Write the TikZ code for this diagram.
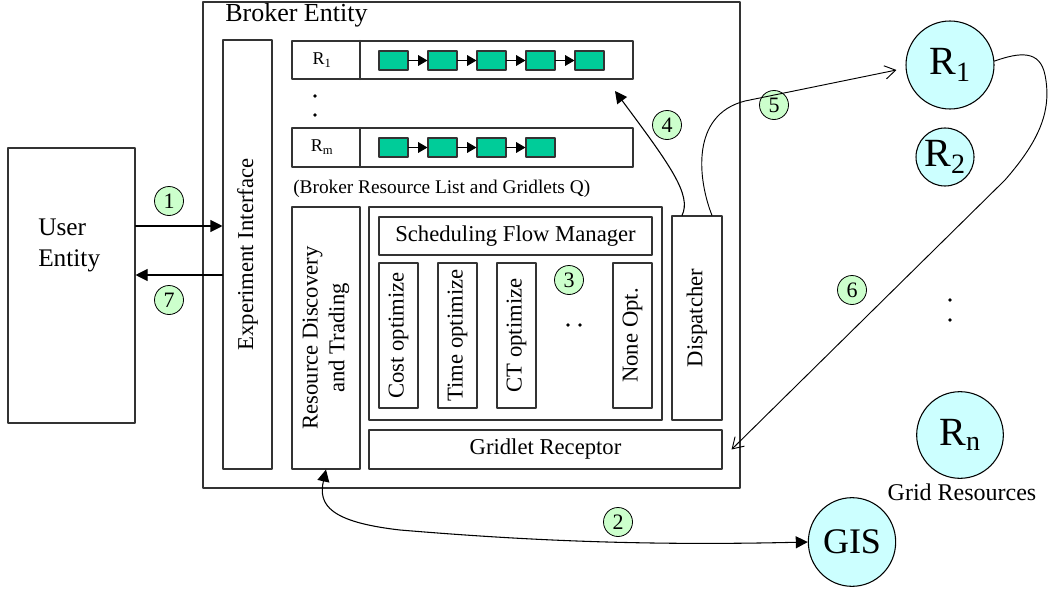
\documentclass[tikz,border=0pt]{standalone}
\usepackage{fontspec}
\setmainfont{Liberation Serif}
\usetikzlibrary{arrows.meta,fit,shapes.geometric}

\definecolor{jobfill}{RGB}{0,204,153}
\definecolor{stepfill}{RGB}{204,255,204}
\definecolor{resfill}{RGB}{204,255,255}

\begin{document}
\begin{tikzpicture}
	[line cap=round,line join=round,>={Triangle[length=9pt,width=9pt]},x=0.75pt,y=-0.75pt,
	box/.style={draw=black!80,line width=0.8pt,inner sep=0pt},
	lbl/.style={font=\fontsize{17}{20}\selectfont,inner sep=0pt},
	job/.style={draw=black!80,fill=jobfill,line width=0.8pt,minimum width=21.75pt,minimum height=14.25pt,inner sep=0pt},
	num/.style={circle,draw=black,fill=stepfill,line width=0.6pt,minimum size=21.75pt,inner sep=0pt,font=\fontsize{16.5}{16.5}\selectfont},
	res/.style={circle,draw=black,fill=resfill,line width=0.8pt,inner sep=0pt,font=\fontsize{30}{30}\selectfont},
	flow/.style={line width=0.8pt},
	open/.style={line width=0.7pt,-{Straight Barb[length=8pt,width=10pt]}}]
	\useasboundingbox (0,0) rectangle (1052,592);
	% broker and user
	\node[box,fit={(203,2) (740,488)}] (broker) {};
	\node[anchor=base west,inner sep=0pt,font=\fontsize{19.5}{22}\selectfont] (title) at (225,22) {Broker Entity};
	\node[box,fit={(8,148) (135,423)}] (user) {};
	\node[anchor=north west,align=left,inner sep=0pt,font=\fontsize{19}{23.25}\selectfont] (usertxt) at (38,219) {User\\Entity};
	\node[box,fit={(223,40) (272,469)}] (expif) {};
	\node[lbl,rotate=90] (expiftxt) at (expif.center) {Experiment Interface};
	% resource list and gridlet queues
	\node[box,fit={(292,41) (633,79)}] (row1) {};
	\node[box,fit={(292,128) (633,167)}] (rowm) {};
	\draw[draw=black!80,line width=0.8pt] (360,0 |- row1.north) -- (360,0 |- row1.south);
	\draw[draw=black!80,line width=0.8pt] (360,0 |- rowm.north) -- (360,0 |- rowm.south);
	\node[inner sep=0pt,font=\fontsize{13.5}{14}\selectfont] (lab1) at (322,60) {R\textsubscript{1}};
	\node[inner sep=0pt,font=\fontsize{13.5}{14}\selectfont] (labm) at (322,147) {R\textsubscript{m}};
	\foreach \i in {1,...,5}
		\node[job] (a\i) at ({393.5+49*(\i-1)},60.5) {};
	\foreach \i [count=\j from 2] in {1,...,4}
		\draw[-{Triangle[length=7pt,width=8pt]},flow] (a\i) -- (a\j);
	\foreach \i in {1,...,4}
		\node[job] (b\i) at ({393.5+49*(\i-1)},147.5) {};
	\foreach \i [count=\j from 2] in {1,...,3}
		\draw[-{Triangle[length=7pt,width=8pt]},flow] (b\i) -- (b\j);
	\fill (315,96) circle[radius=1.4pt];
	\fill (315,115) circle[radius=1.4pt];
	\node[anchor=base west,inner sep=0pt,font=\fontsize{14.5}{16}\selectfont] (qcap) at (293,193) {(Broker Resource List and Gridlets Q)};
	% discovery, scheduler, dispatcher, receptor
	\node[box,fit={(292,207) (360,469)}] (rdt) {};
	\node[lbl,rotate=90,align=center] (rdttxt) at (rdt.center) {Resource Discovery\\and Trading};
	\node[box,fit={(369,207) (662,420)}] (sched) {};
	\node[box,fit={(379,217) (652,255)}] (sfm) {};
	\node[lbl] (sfmtxt) at (sfm.center) {Scheduling Flow Manager};
	\foreach \x/\t/\n in {398.5/Cost optimize/cost,457.5/Time optimize/time,516.5/CT optimize/ct,632.5/None Opt./none}{
		\node[box,fit={({\x-19.5},263) ({\x+19.5},408)}] (\n) {};
		\node[lbl,rotate=90] (\n txt) at (\n.center) {\t};
	}
	\fill (568,325) circle[radius=1.4pt];
	\fill (580,325) circle[radius=1.4pt];
	\node[box,fit={(672,216) (722,420)}] (disp) {};
	\node[lbl,rotate=90] (disptxt) at (disp.center) {Dispatcher};
	\node[box,fit={(369,430) (722,469)}] (recep) {};
	\node[lbl] (receptxt) at (recep.center) {Gridlet Receptor};
	% grid resources
	\node[res,minimum size=66pt] (r1) at (950,65) {R\textsubscript{1}};
	\node[res,minimum size=43.5pt] (r2) at (945,157) {R\textsubscript{2}};
	\node[res,minimum size=65pt] (rn) at (960,435) {R\textsubscript{n}};
	\fill (950,300) circle[radius=1.4pt];
	\fill (950,320) circle[radius=1.4pt];
	\node[inner sep=0pt,font=\fontsize{18}{20}\selectfont] (gridres) at (962,492) {Grid Resources};
	\node[ellipse,draw=black,fill=resfill,line width=0.8pt,minimum width=65.5pt,minimum height=66.5pt,inner sep=0pt,font=\fontsize{27}{27}\selectfont] (gis) at (852,542) {GIS};
	% steps
	\node[num] (n1) at (169,201) {1};
	\node[num] (n2) at (618,522) {2};
	\node[num] (n3) at (569,280) {3};
	\node[num] (n4) at (667,125) {4};
	\node[num] (n5) at (774,105) {5};
	\node[num] (n6) at (852,290) {6};
	\node[num] (n7) at (169,300) {7};
	\coordinate (q4) at (615,91);
	\draw[->,flow] (user.east |- 0,226) -- (expif.west |- 0,226);
	\draw[->,flow] (expif.west |- 0,275) -- (user.east |- 0,275);
	\draw[<->,flow] (rdt.south) .. controls (318,505) and (330,522) .. (400,530) .. controls (520,540) and (640,546) .. (gis.west);
	\draw[->,flow] (682,0 |- disp.north) .. controls (692,195) and (670,165) .. (q4);
	\draw[open] (712,0 |- disp.north) .. controls (698,180) and (690,115) .. (745,101) -- ([shift={(-9,5)}]r1.west);
	\draw[open] (r1.5) .. controls (1020,52) and (1040,50) .. (1045,75) .. controls (1052,110) and (1040,140) .. (1005,180) -- ([shift={(9,0)}]recep.east);
\end{tikzpicture}
\end{document}
